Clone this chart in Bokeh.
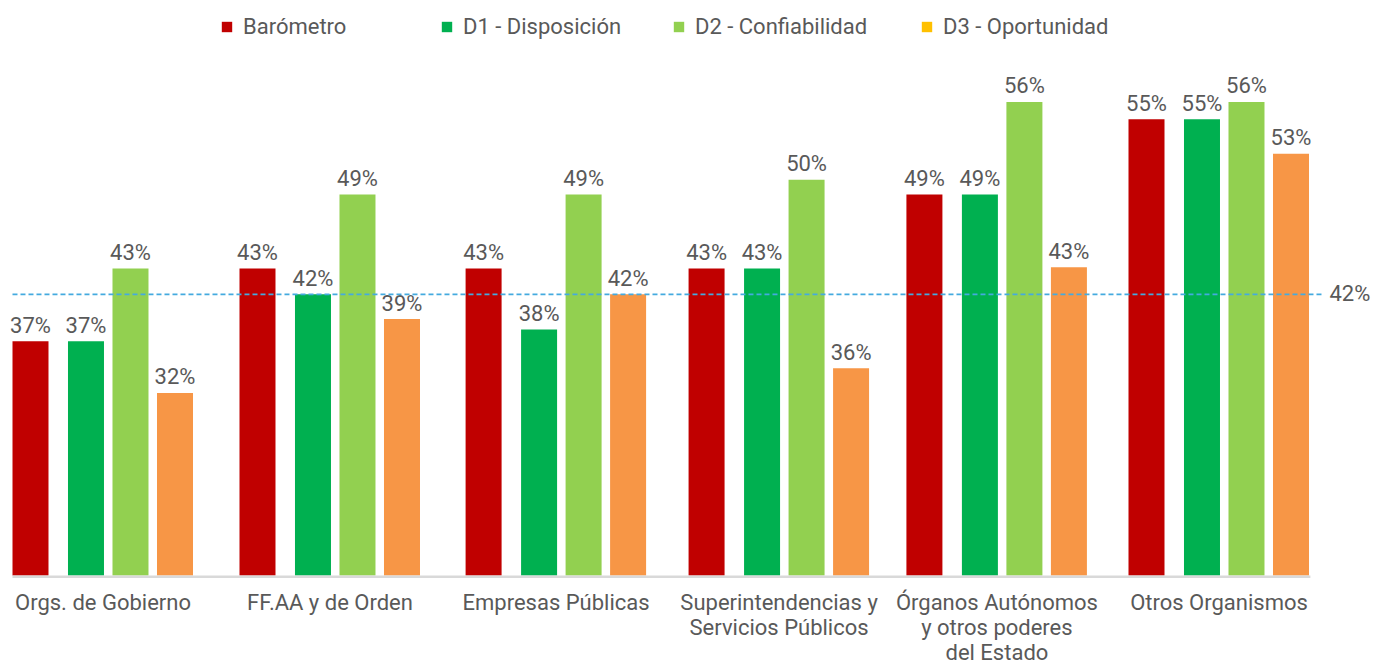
from bokeh.plotting import figure
from bokeh.models import ColumnDataSource, Range1d, Legend, LegendItem
from bokeh.core.properties import value
from bokeh.embed import file_html
from bokeh.resources import INLINE

# ---------------- data ----------------
categories = ["Orgs. de Gobierno", "FF.AA y de Orden", "Empresas Públicas",
              "Superintendencias y\nServicios Públicos",
              "Órganos Autónomos\ny otros poderes\ndel Estado",
              "Otros Organismos"]
series_names = ["Barómetro", "D1 - Disposición", "D2 - Confiabilidad", "D3 - Oportunidad"]
# bar heights as drawn in the picture (%)
barometro = [37.0, 42.9, 42.9, 42.9, 48.9, 55.0]
d1_disposicion = [37.0, 40.8, 37.95, 42.9, 48.9, 55.0]
d2_confiabilidad = [42.9, 48.9, 48.9, 50.1, 56.4, 56.4]
d3_oportunidad = [32.8, 38.8, 40.8, 34.8, 43.0, 52.2]
# printed labels
barometro_lbl = ["37%", "43%", "43%", "43%", "49%", "55%"]
d1_lbl = ["37%", "42%", "38%", "43%", "49%", "55%"]
d2_lbl = ["43%", "49%", "49%", "50%", "56%", "56%"]
d3_lbl = ["32%", "39%", "42%", "36%", "43%", "53%"]
reference_value = 40.8
reference_lbl = "42%"

# ---------------- style / layout ----------------
BASE = 18.0
FONT = "Roboto"
FS = "22px"
TXT = "#595959"
bar_colors = ["#C00000", "#00B050", "#92D050", "#F79646"]
legend_colors = ["#C00000", "#00B050", "#92D050", "#FFC000"]
GROUP_X = [0.0, 1.017, 2.030, 3.029, 4.005, 5.000]   # group centres (layout)
offsets = [-0.3248, -0.0762, 0.1232, 0.3226]
BAR_W = 0.1613

p = figure(width=1374, height=665, title=None,
           x_range=Range1d(-0.4592, 5.6967), y_range=Range1d(10.70, 64.63),
           output_backend="svg", toolbar_location=None, min_border=0)
p.axis.visible = False
p.grid.visible = False
p.outline_line_color = None
p.background_fill_color = "white"
p.border_fill_color = "white"

all_vals = [barometro, d1_disposicion, d2_confiabilidad, d3_oportunidad]
all_lbls = [barometro_lbl, d1_lbl, d2_lbl, d3_lbl]
renderers = []
for k in range(4):
    xs = [GROUP_X[i] + offsets[k] for i in range(len(categories))]
    src = ColumnDataSource(dict(x=xs, top=all_vals[k], lbl=all_lbls[k]))
    r = p.vbar(x="x", top="top", bottom=BASE, width=BAR_W, source=src,
               fill_color=bar_colors[k], line_color=None)
    renderers.append(r)
    p.text(x="x", y="top", text="lbl", source=src, text_align="center",
           text_baseline="middle", y_offset=-16, text_font=value(FONT),
           text_font_size=FS, text_color=TXT)

# baseline
p.segment(x0=[-0.4055], x1=[5.4095], y0=[BASE - 0.1], y1=[BASE - 0.1],
          line_color="#D9D9D9", line_width=2.5)

# reference line
p.segment(x0=[-0.4055], x1=[5.4692], y0=[reference_value], y1=[reference_value],
          line_color="#44AADF", line_width=1.8, line_dash="5 3")
p.text(x=[5.4951], y=[reference_value], text=[reference_lbl], text_align="left",
       text_baseline="middle", y_offset=-1, text_font=value(FONT),
       text_font_size=FS, text_color=TXT)

# category labels (one glyph row per line)
lx, ly, lt, lo = [], [], [], []
for i, c in enumerate(categories):
    for j, line in enumerate(c.split("\n")):
        lx.append(GROUP_X[i])
        ly.append(BASE)
        lt.append(line)
        lo.append(27 + 25 * j)
p.text(x="x", y="y", text="t", y_offset="o",
       source=ColumnDataSource(dict(x=lx, y=ly, t=lt, o=lo)),
       text_align="center", text_baseline="middle", text_font=value(FONT),
       text_font_size=FS, text_color=TXT)

# legend
dummy = p.vbar(x=[2.5], top=[BASE], bottom=[BASE], width=BAR_W,
               fill_color=legend_colors[3], line_color=None)
leg_renderers = renderers[:3] + [dummy]
leg_x = [220, 440, 672, 920]
for k in range(4):
    lg = Legend(items=[LegendItem(label=series_names[k], renderers=[leg_renderers[k]])],
                location=(leg_x[k], 626), orientation="horizontal",
                glyph_width=13, glyph_height=13, label_standoff=10,
                padding=0, margin=0, border_line_color=None,
                background_fill_alpha=0, label_text_font=FONT,
                label_text_font_size=FS, label_text_color=TXT)
    p.add_layout(lg, "center")

open("out.html", "w").write(file_html(p, INLINE))
